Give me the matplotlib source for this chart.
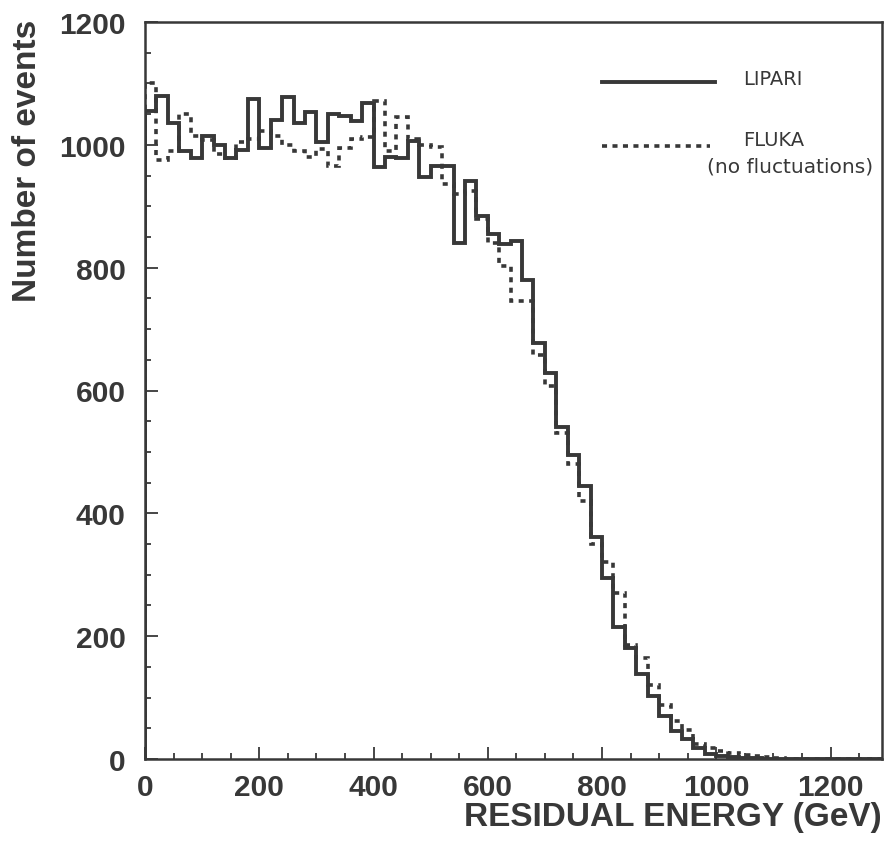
import numpy as np
import matplotlib
matplotlib.use("Agg")
import matplotlib.pyplot as plt
from matplotlib.ticker import MultipleLocator

# bin edges, 20 GeV bins from 0 to 1300 GeV
edges = np.arange(0, 1320, 20)

# LIPARI (solid)
lipari = [1055, 1080, 1035, 990, 978, 1015, 1000, 978, 992, 1075,
          995, 1040, 1078, 1035, 1053, 1005, 1050, 1047, 1039, 1068,
          964, 980, 978, 1007, 948, 966, 966, 840, 941, 884,
          855, 838, 843, 780, 678, 628, 540, 495, 445, 362,
          295, 215, 180, 138, 102, 70, 46, 33, 18, 8,
          5, 3, 2, 1, 0, 0, 0, 0, 0, 0,
          0, 0, 0, 0, 0]

# FLUKA, no fluctuations (dotted)
fluka = [1100, 975, 990, 1050, 1015, 1008, 985, 978, 1005, 1010,
         1023, 1015, 1000, 990, 980, 993, 965, 995, 1010, 1012,
         1072, 990, 1045, 1010, 1000, 997, 936, 920, 925, 880,
         840, 803, 746, 746, 658, 608, 530, 480, 420, 350,
         320, 270, 185, 165, 120, 88, 62, 48, 25, 18,
         13, 10, 7, 5, 3, 1, 0, 0, 0, 0,
         0, 0, 0, 0, 0]

ink = "#383838"
plt.rcParams['font.family'] = ['Liberation Sans', 'DejaVu Sans']

fig = plt.figure(figsize=(8.87, 8.45), dpi=100)
ax = fig.add_axes([145/887, 1-760/845, 737/887, 737/845])

ax.stairs(lipari, edges, color=ink, lw=2.8)
ax.stairs(fluka, edges, color=ink, lw=2.6, linestyle=(0, (1.4, 1.5)))

ax.set_xlim(0, 1290)
ax.set_ylim(0, 1200)
ax.xaxis.set_major_locator(MultipleLocator(200))
ax.xaxis.set_minor_locator(MultipleLocator(50))
ax.yaxis.set_major_locator(MultipleLocator(200))
ax.yaxis.set_minor_locator(MultipleLocator(50))
ax.tick_params(which='both', direction='in', color=ink, width=1.3,
               top=False, right=False)
ax.tick_params(which='major', length=9)
ax.tick_params(which='minor', length=4.5)
ax.tick_params(axis='y', which='major', pad=14)
ax.tick_params(axis='x', which='major', pad=10)
for lab in ax.get_xticklabels() + ax.get_yticklabels():
    lab.set_fontsize(21.5)
    lab.set_fontweight('bold')
    lab.set_color(ink)
for s in ax.spines.values():
    s.set_linewidth(1.8)
    s.set_color(ink)

ax.text(1.0, -0.078, "RESIDUAL ENERGY (GeV)", transform=ax.transAxes,
        ha='right', va='center', fontsize=24, fontweight='bold', color=ink)
ax.text(-0.159, 1.004, "Number of events", transform=ax.transAxes,
        rotation=90, ha='center', va='top', fontsize=24, fontweight='bold', color=ink)

# legend drawn by hand
ax.plot([0.620, 0.773], [0.9186, 0.9186], transform=ax.transAxes, color=ink, lw=2.8)
ax.plot([0.620, 0.766], [0.832, 0.832], transform=ax.transAxes, color=ink, lw=2.6,
        linestyle=(0, (1.4, 1.5)))
ax.text(0.812, 0.923, "LIPARI", transform=ax.transAxes, ha='left', va='center',
        fontsize=14, color=ink, family='DejaVu Sans')
ax.text(0.812, 0.841, "FLUKA", transform=ax.transAxes, ha='left', va='center',
        fontsize=14, color=ink, family='DejaVu Sans')
ax.text(0.762, 0.805, "(no fluctuations)", transform=ax.transAxes, ha='left', va='center',
        fontsize=14.5, color=ink, family='DejaVu Sans')

fig.savefig("out.png", dpi=100)
